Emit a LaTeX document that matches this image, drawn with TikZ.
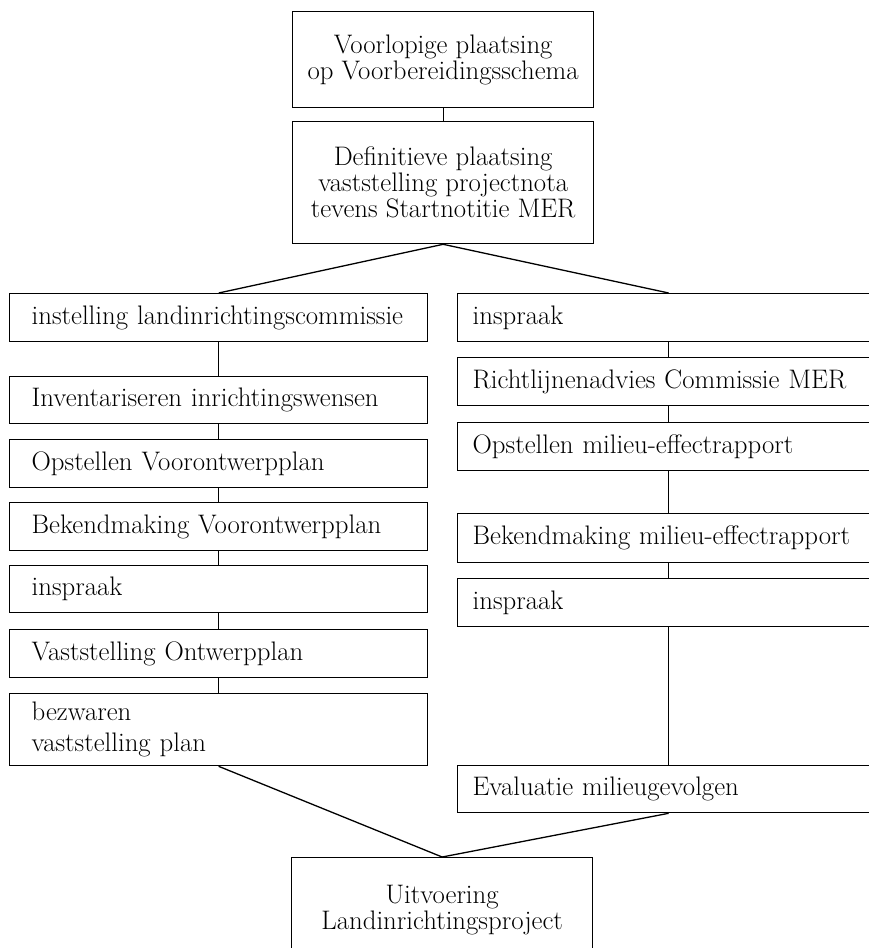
\documentclass[tikz,border=0pt]{standalone}
\begin{document}
\begin{tikzpicture}[x=1pt, y=-1pt, line width=1.3pt,
            box/.style={draw, rectangle, anchor=north west, inner sep=0pt,
                font=\fontsize{26.8}{26}\selectfont},
            midbox/.style={box, minimum width=301pt, align=center},
            leftbox/.style={box, inner xsep=22pt, text width=374pt, align=left,
                minimum width=418pt, minimum height=#1},
            rightbox/.style={box, inner xsep=15pt, text width=392pt, align=left,
                minimum width=422pt, minimum height=#1}]
            \useasboundingbox (0,0) rectangle (869,948);
            \node (voorlopig) at (292,11) [midbox, minimum height=96pt] {Voorlopige plaatsing\\op Voorbereidingsschema};
            \node (definitief) at (292,121) [midbox, minimum height=122pt] {Definitieve plaatsing\\vaststelling projectnota\\tevens Startnotitie MER};
            \node (commissie) at (9,293) [leftbox=48pt] {instelling landinrichtingscommissie};
            \node (wensen) at (9,376) [leftbox=47pt] {Inventariseren inrichtingswensen};
            \node (voorontwerp) at (9,439) [leftbox=48pt] {Opstellen Voorontwerpplan};
            \node (bekendvo) at (9,502) [leftbox=48pt] {Bekendmaking Voorontwerpplan};
            \node (inspraakL) at (9,565) [leftbox=47pt] {inspraak};
            \node (ontwerp) at (9,629) [leftbox=48pt] {Vaststelling Ontwerpplan};
            \node (bezwaren) at (9,693) [leftbox=72pt] {bezwaren\\[5pt]vaststelling plan};
            \node (inspraakR) at (457,293) [rightbox=48pt] {inspraak};
            \node (richtlijn) at (457,357) [rightbox=48pt] {Richtlijnenadvies Commissie MER};
            \node (mer) at (457,422) [rightbox=48pt] {Opstellen milieu-effectrapport};
            \node (bekendmer) at (457,513) [rightbox=49pt] {Bekendmaking milieu-effectrapport};
            \node (inspraakM) at (457,578) [rightbox=48pt] {inspraak};
            \node (evaluatie) at (457,765) [rightbox=47pt] {Evaluatie milieugevolgen};
            \node (uitvoering) at (291,857) [midbox, minimum height=105pt] {Uitvoering\\Landinrichtingsproject};
            \draw (voorlopig.south) -- (definitief.north);
            \draw (commissie.north) -- (definitief.south) -- (inspraakR.north);
            \draw (commissie) -- (wensen) -- (voorontwerp) -- (bekendvo) -- (inspraakL) -- (ontwerp) -- (bezwaren);
            \draw (inspraakR) -- (richtlijn) -- (mer) -- (bekendmer) -- (inspraakM) -- (evaluatie);
            \draw (bezwaren.south) -- (uitvoering.north) -- (evaluatie.south);
        \end{tikzpicture}
\end{document}
